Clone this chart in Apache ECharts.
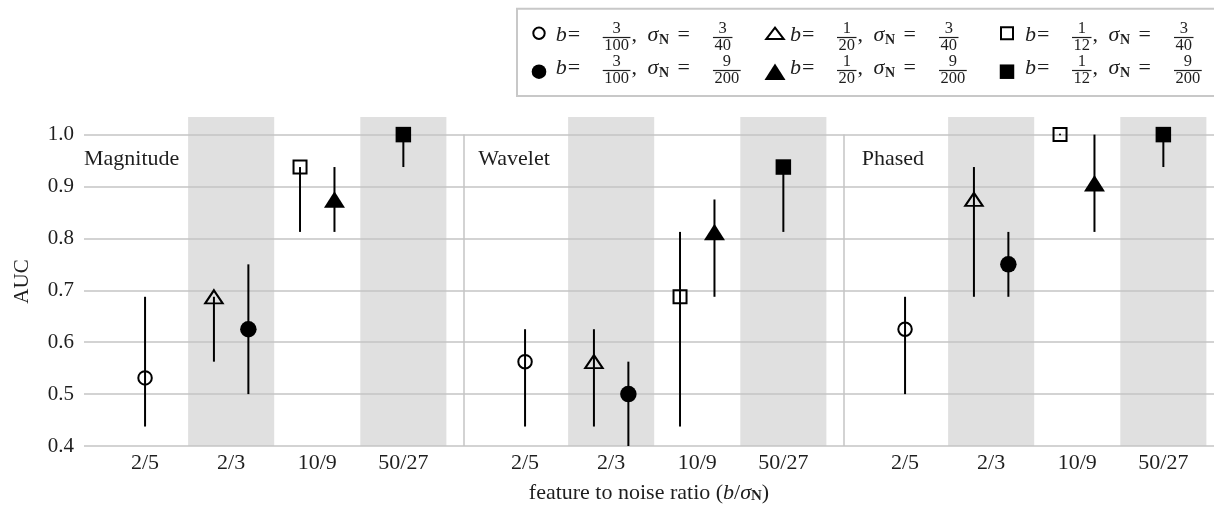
<!DOCTYPE html>
<html><head><meta charset="utf-8">
<script src="https://cdn.jsdelivr.net/npm/echarts@6/dist/echarts.min.js"></script>
<style>html,body{margin:0;padding:0;background:#fff}#c{width:1214px;height:506px}</style>
</head><body><div id="c"></div>
<script>
// ---------------- data ----------------
const panels = ['Magnitude', 'Wavelet', 'Phased'];
const ratioLabels = ['2/5', '2/3', '10/9', '50/27'];
const yTicks = [0.4, 0.5, 0.6, 0.7, 0.8, 0.9, 1.0];
const legendB = ['3/100', '1/20', '1/12'];      // circle, triangle, square
const legendSigma = ['3/40', '9/200'];          // open, filled

// values per panel [Magnitude, Wavelet, Phased]
const openCircleAUC = [0.53125, 0.5625, 0.625];
const openCircleLow = [0.4375, 0.4375, 0.5];
const openCircleHigh = [0.6875, 0.625, 0.6875];

const openTriangleAUC = [0.6875, 0.5625, 0.875];
const openTriangleLow = [0.5625, 0.4375, 0.6875];
const openTriangleHigh = [0.6875, 0.625, 0.9375];

const filledCircleAUC = [0.625, 0.5, 0.75];
const filledCircleLow = [0.5, 0.375, 0.6875];
const filledCircleHigh = [0.75, 0.5625, 0.8125];

const openSquareAUC = [0.9375, 0.6875, 1.0];
const openSquareLow = [0.8125, 0.4375, 1.0];
const openSquareHigh = [0.9375, 0.8125, 1.0];

const filledTriangleAUC = [0.875, 0.8125, 0.90625];
const filledTriangleLow = [0.8125, 0.6875, 0.8125];
const filledTriangleHigh = [0.9375, 0.875, 1.0];

const filledSquareAUC = [1.0, 0.9375, 1.0];
const filledSquareLow = [0.9375, 0.8125, 0.9375];
const filledSquareHigh = [1.0, 0.9375, 1.0];

// ---------------- layout / style ----------------
const FONT = '"Liberation Serif", "DejaVu Serif", serif';
const TXT = '#1e1e1e';
const GRID_COLOR = '#c4c4c4';
const BAND_COLOR = '#e0e0e0';
const COLW = 86.1;                 // px per column unit
const PW = 380 / COLW;             // panel width in column units
const PAD = 18 / COLW;             // panel left padding
const SIDE = 0.2;                  // offset of paired markers
const XMAX = 1130 / COLW;
const YMIN = 0.4, YMAX = 0.4 + 329 / 519;

function xPos(p, col, side) { return p * PW + PAD + col + 0.5 + side * SIDE; }

const markerSeries = [
  { name: 'openCircle', col: 0, side: 0, symbol: 'circle', size: 13.5, filled: false, auc: openCircleAUC, low: openCircleLow, high: openCircleHigh },
  { name: 'openTriangle', col: 1, side: -1, symbol: 'triangle', size: [17.5, 13], filled: false, auc: openTriangleAUC, low: openTriangleLow, high: openTriangleHigh },
  { name: 'filledCircle', col: 1, side: 1, symbol: 'circle', size: 16.5, filled: true, auc: filledCircleAUC, low: filledCircleLow, high: filledCircleHigh },
  { name: 'openSquare', col: 2, side: -1, symbol: 'rect', size: 13, filled: false, auc: openSquareAUC, low: openSquareLow, high: openSquareHigh },
  { name: 'filledTriangle', col: 2, side: 1, symbol: 'triangle', size: [21, 16.5], filled: true, auc: filledTriangleAUC, low: filledTriangleLow, high: filledTriangleHigh },
  { name: 'filledSquare', col: 3, side: 0, symbol: 'rect', size: 15.5, filled: true, auc: filledSquareAUC, low: filledSquareLow, high: filledSquareHigh }
];

const tickPos = [], tickText = [];
panels.forEach((_, p) => ratioLabels.forEach((lab, c) => { tickPos.push(xPos(p, c, 0)); tickText.push(lab); }));

const bands = [];
panels.forEach((_, p) => [1, 3].forEach(c => {
  bands.push([{ xAxis: p * PW + PAD + c }, { xAxis: p * PW + PAD + c + 1 }]);
}));

const gridLines = yTicks.map(v => ({ yAxis: v }));
const dividers = [1, 2].map(k => [{ coord: [k * PW, yTicks[0]] }, { coord: [k * PW, yTicks[yTicks.length - 1]] }]);

const errData = [];
markerSeries.forEach(s => panels.forEach((_, p) => errData.push([xPos(p, s.col, s.side), s.low[p], s.high[p]])));

const series = [
  { type: 'line', data: [], z: 1, silent: true,
    markArea: { z: 1, silent: true, itemStyle: { color: BAND_COLOR }, data: bands } },
  { type: 'line', data: [], z: 2, silent: true,
    markLine: { z: 2, silent: true, symbol: ['none', 'none'], label: { show: false },
      lineStyle: { color: GRID_COLOR, width: 1.5, type: 'solid' }, emphasis: { disabled: true },
      data: gridLines.concat(dividers) } },
  { type: 'custom', z: 3, silent: true, data: errData,
    encode: { x: 0, y: [1, 2] },
    renderItem(params, api) {
      const x = api.value(0), lo = api.value(1), hi = api.value(2);
      const p1 = api.coord([x, lo]), p2 = api.coord([x, hi]);
      const cs = params.coordSys;
      const yb = Math.min(p1[1], cs.y + cs.height), yt = Math.max(p2[1], cs.y);
      if (Math.abs(yb - yt) < 0.5) {
        return { type: 'circle', shape: { cx: p1[0], cy: yb, r: 1 }, style: { fill: '#000' } };
      }
      return { type: 'line', shape: { x1: p1[0], y1: yb, x2: p2[0], y2: yt },
        style: { stroke: '#000', lineWidth: 2 } };
    } }
];
markerSeries.forEach(s => {
  series.push({
    type: 'scatter', name: s.name, z: 4, silent: true,
    symbol: s.symbol, symbolSize: s.size,
    itemStyle: s.filled ? { color: '#000', opacity: 1 } : { color: 'rgba(0,0,0,0)', borderColor: '#000', borderWidth: 2, opacity: 1 },
    data: panels.map((_, p) => [xPos(p, s.col, s.side), s.auc[p]])
  });
});

// ---------------- legend (graphic) ----------------
const ctx = document.createElement('canvas').getContext('2d');
function tw(text, font) { ctx.font = font; return ctx.measureText(text).width; }
const MAIN = '22px ' + FONT, MAIN_I = 'italic 22px ' + FONT, FRAC = '16.5px ' + FONT, SUB = 'bold 14px ' + FONT;
function txt(text, x, y, font, align) {
  return { type: 'text', silent: true, style: { text, x, y, font, fill: TXT, align: align || 'left', verticalAlign: 'middle', textAlign: align || 'left', textVerticalAlign: 'middle' } };
}
function frac(str, xl, yc, out) {
  const [n, d] = str.split('/');
  const w = Math.max(tw(n, FRAC), tw(d, FRAC)) + 3;
  out.push(txt(n, xl + w / 2, yc - 9, FRAC, 'center'));
  out.push(txt(d, xl + w / 2, yc + 8.5, FRAC, 'center'));
  out.push({ type: 'line', silent: true, shape: { x1: xl, y1: yc, x2: xl + w, y2: yc }, style: { stroke: TXT, lineWidth: 1.2 } });
  return xl + w;
}
const legendEls = [];
legendEls.push({ type: 'rect', silent: true, shape: { x: 517, y: 8.7, width: 740, height: 87.3 }, style: { fill: '#fff', stroke: '#c8c8c8', lineWidth: 2 } });
const colMarkerX = [539, 775, 1007], colTextX = [555.7, 790, 1025];
const rowBarY = [37.5, 70.5], rowMarkY = [33.3, 71.7];
legendB.forEach((bStr, c) => legendSigma.forEach((sStr, r) => {
  const filled = r === 1;
  const mx = colMarkerX[c], my = rowMarkY[r];
  const st = filled ? { fill: '#000', stroke: '#000', lineWidth: 0 } : { fill: 'none', stroke: '#000', lineWidth: 2 };
  if (c === 0) legendEls.push({ type: 'circle', silent: true, shape: { cx: mx, cy: my, r: filled ? 7.3 : 5.7 }, style: st });
  if (c === 1) { const w = filled ? 21 : 17.5, h = filled ? 16.5 : 11.5;
    legendEls.push({ type: 'polygon', silent: true, shape: { points: [[mx, my - h / 2], [mx + w / 2, my + h / 2], [mx - w / 2, my + h / 2]] }, style: st }); }
  if (c === 2) { const s = filled ? 14.5 : 12;
    legendEls.push({ type: 'rect', silent: true, shape: { x: mx - s / 2, y: my - s / 2, width: s, height: s }, style: st }); }
  const x0 = colTextX[c], yc = rowBarY[r];
  legendEls.push(txt('b', x0, yc - 2, MAIN_I));
  legendEls.push(txt('=', x0 + 12, yc - 2, MAIN));
  const fr = frac(bStr, x0 + 47, yc, legendEls);
  legendEls.push(txt(',', fr + 1, yc - 2, MAIN));
  const sx = fr + 17;
  legendEls.push(txt('σ', sx, yc - 2, MAIN_I));
  legendEls.push(txt('N', sx + 11.5, yc + 2.5, SUB));
  legendEls.push(txt('=', sx + 30, yc - 2, MAIN));
  frac(sStr, sx + 65.5, yc, legendEls);
}));
const panelLabelX = [84, 478.3, 861.7];
panels.forEach((name, p) => legendEls.push(txt(name, panelLabelX[p], 159, MAIN)));

const option = {
  animation: false,
  backgroundColor: '#fff',
  grid: { left: 84, right: 0, top: 117, bottom: 60, containLabel: false, outerBoundsMode: 'none' },
  xAxis: {
    type: 'value', min: 0, max: XMAX,
    axisLine: { show: false }, axisTick: { show: false }, splitLine: { show: false },
    axisLabel: { customValues: tickPos, margin: 6, color: TXT, fontFamily: FONT, fontSize: 22,
      formatter: v => { const i = tickPos.findIndex(t => Math.abs(t - v) < 1e-6); return i >= 0 ? tickText[i] : ''; } },
    name: 'feature to noise ratio ({i|b}/{i|σ}{sub|N})',
    nameLocation: 'middle', nameGap: 36,
    nameTextStyle: { color: TXT, fontFamily: FONT, fontSize: 22,
      rich: { i: { fontStyle: 'italic', fontFamily: FONT, fontSize: 22, color: TXT },
              sub: { fontWeight: 'bold', fontFamily: FONT, fontSize: 15, color: TXT, verticalAlign: 'bottom' } } }
  },
  yAxis: {
    type: 'value', min: YMIN, max: YMAX,
    axisLine: { show: false }, axisTick: { show: false }, splitLine: { show: false },
    axisLabel: { customValues: yTicks, margin: 10, color: TXT, fontFamily: FONT, fontSize: 21, formatter: v => v.toFixed(1) },
    name: 'AUC', nameLocation: 'middle', nameGap: 51, nameRotate: 90,
    nameTextStyle: { color: TXT, fontFamily: FONT, fontSize: 21 }
  },
  series,
  graphic: { elements: legendEls }
};
const chart = echarts.init(document.getElementById('c'), null, { renderer: 'canvas' });
chart.setOption(option);
</script></body></html>
